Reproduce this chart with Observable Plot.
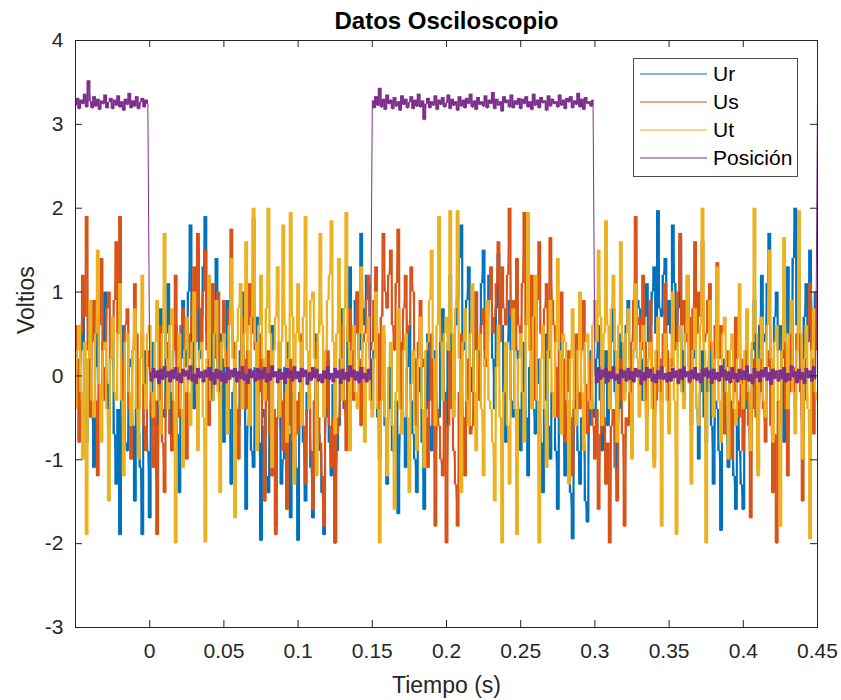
<!DOCTYPE html>
<html>
<head>
<meta charset="utf-8">
<script src="https://cdn.jsdelivr.net/npm/d3@7"></script>
<script src="https://cdn.jsdelivr.net/npm/@observablehq/plot@0.6"></script>
<style>
  body { margin: 0; background: white; }
  #wrap { position: relative; width: 841px; height: 700px; }
  #legend { position: absolute; left: 633px; top: 58px; }
</style>
</head>
<body>
<div id="wrap"></div>
<script>
// ---- data ----
const seriesNames = ["Ur", "Us", "Ut", "Posición"];
const seriesColors = ["#0072BD", "#D95319", "#EDB120", "#7E2F8E"];
const tStart = -0.05;    // first sample time (s)
const tStep = 0.00125;   // sampling step (s)

const ur = [
  0.5,0.1,-0.4,0.3,0.9,-0.2,-0.8,0.2,0.3,-0.5,-1.1,0.1,0.7,-0.3,-0.2,0.4,1.0,-0.1,-0.6,0.2,
  0.4,-0.7,-1.3,-0.4,-1.9,-0.2,0.6,-0.8,-0.9,0.1,0.2,-0.6,-1.5,-0.3,-0.7,-1.1,-1.9,-0.4,0.3,-0.9,
  -1.7,-0.3,0.4,-0.6,-1.2,0.2,0.8,-0.4,-0.5,0.5,1.1,-0.2,-0.9,0.3,0.6,-0.7,-1.4,0.2,0.9,0.1,
  0.3,1.0,1.8,0.4,-0.4,0.9,1.5,0.2,0.7,1.3,1.9,0.5,1.2,0.8,-0.3,0.6,1.4,-0.1,0.5,0.2,
  -0.8,0.2,0.9,-0.4,-1.3,-0.2,0.4,-0.5,-0.6,0.3,1.0,-0.3,-1.6,-0.6,0.2,-0.9,-1.1,0.1,0.7,-0.8,
  -1.97,-0.4,-0.5,-1.2,-1.4,0.2,0.6,-0.9,-1.8,-0.5,-0.3,-1.3,-1.0,0.1,0.4,-0.7,-1.7,-0.2,-0.6,-1.1,
  -1.97,-0.6,0.3,-0.8,-1.5,-0.2,-0.4,-1.1,-1.7,-0.3,0.5,-0.7,-0.9,-1.4,-1.9,-0.5,0.2,-0.8,-1.2,-0.1,
  -2.0,-0.9,-0.6,0.2,0.8,-0.4,-0.3,0.6,1.3,0.1,0.4,0.9,1.0,0.3,1.7,0.8,0.6,1.2,1.1,0.2,
  -0.4,0.3,0.9,-0.5,-1.0,-0.2,0.5,-0.6,-1.3,-0.4,0.3,-0.9,-0.8,-0.3,-1.65,-0.7,0.2,-0.5,-1.1,0.1,
  0.6,-0.3,-0.7,-1.0,-1.4,-0.2,0.1,-0.8,-1.6,-0.4,0.5,-0.6,-0.9,0.2,0.3,-0.4,-0.5,0.4,0.8,-0.2,
  -0.6,0.4,1.2,0.2,-0.3,0.6,0.9,1.4,1.8,0.3,0.5,0.9,1.3,0.1,-0.2,0.7,1.0,0.2,0.4,1.1,
  1.5,0.3,0.7,1.2,1.1,0.2,-0.4,0.8,1.45,0.5,0.6,-0.2,-0.8,0.4,0.9,-0.3,-0.5,0.6,0.3,-0.4,
  -0.9,-0.2,0.4,-0.5,-1.2,0.1,0.6,-0.4,-0.7,-0.1,0.2,-0.8,-1.4,-0.3,0.5,-0.6,-1.0,-0.2,-0.3,-0.9,
  -1.6,-0.5,0.4,-0.7,-1.2,-0.3,-0.6,-1.4,-1.95,-0.4,-0.2,-0.9,-1.3,-0.5,-0.8,-1.5,-1.75,-0.6,0.3,-0.4,
  -0.5,0.2,0.6,-0.3,-0.9,-0.1,0.3,-0.6,-0.4,0.4,0.8,-0.2,-1.1,-0.4,0.5,0.1,-0.2,0.6,0.9,0.2,
  -0.7,0.3,0.4,0.9,0.8,0.2,-0.3,0.7,1.1,0.4,0.6,1.0,1.3,0.5,1.97,0.8,0.7,1.2,1.4,0.6,
  0.9,0.5,1.8,1.1,0.4,0.8,1.6,0.3,-0.3,0.6,0.9,0.1,-0.6,0.2,0.5,-0.4,-1.0,-0.2,0.3,-0.5,
  -0.8,0.1,0.7,-0.6,-1.3,-0.3,-0.4,-0.9,-1.85,-0.2,0.2,-0.7,-1.1,-0.3,-0.5,-1.2,-1.6,-0.4,-0.9,-1.3,
  -1.6,-0.4,0.4,-0.2,-0.7,0.3,0.9,0.1,-0.3,0.6,1.2,0.4,0.5,1.1,1.7,0.2,-0.4,0.7,1.0,0.3,
  0.6,0.1,-0.8,0.5,1.3,0.2,0.3,1.4,2.0,0.6,0.8,0.2,-0.5,0.7,1.1,0.4,1.5,0.8,0.4,1.0,0.9
];
const us = [
  0.6,0.2,-0.8,0.5,1.2,0.7,1.9,0.3,-0.5,0.4,0.9,-0.3,-1.2,0.6,1.4,0.1,-0.3,0.8,1.0,0.2,
  0.4,0.9,1.6,0.5,1.9,0.2,-0.7,0.6,0.8,-0.4,-1.0,0.3,1.1,0.5,-0.4,0.2,0.5,-0.6,-0.9,0.1,
  0.3,-0.5,-1.1,-0.3,-1.9,-0.6,0.6,-0.8,-1.4,-0.2,0.4,-0.7,-0.9,0.3,1.2,0.1,-0.5,0.6,0.8,-0.2,
  -1.0,0.2,0.5,0.9,1.3,0.4,1.7,0.8,0.4,1.0,1.5,0.3,-0.6,0.5,1.1,0.2,0.7,1.0,-0.3,0.4,
  0.9,0.3,-0.6,0.8,1.75,0.4,0.2,-0.4,-1.0,0.1,0.7,0.2,-0.4,0.6,1.1,0.5,1.88,0.3,-0.8,-0.2,
  0.5,-0.6,-1.5,-0.3,0.3,-0.7,-1.2,-0.4,-1.9,-0.5,0.4,-0.3,-0.9,-0.2,-1.6,-0.6,0.2,-0.8,-1.1,-0.3,
  -0.7,-0.2,0.5,-0.6,-1.3,-0.4,-0.2,-0.9,-1.6,-0.3,0.4,-0.5,-0.8,-1.2,-1.8,-0.4,0.3,-0.6,-1.1,-0.5,
  -2.0,-0.7,-0.5,0.2,0.6,-0.3,-0.9,0.1,0.8,0.3,-0.3,0.5,1.0,0.2,-0.6,0.4,0.5,0.9,1.2,0.3,
  0.4,0.9,1.3,0.5,-0.5,0.7,1.7,1.0,0.8,1.2,1.5,0.6,0.3,1.1,1.75,0.4,-0.4,0.8,1.2,0.5,
  0.6,1.3,1.0,0.2,-0.7,0.4,0.9,0.1,0.2,-0.5,-1.1,-0.3,0.5,-0.6,-1.8,-0.4,-0.6,-1.0,-1.2,-0.3,
  -2.0,-0.6,0.3,-0.4,-0.9,-1.3,-1.8,-0.2,0.5,-0.5,-1.2,-0.3,0.2,-0.7,-0.6,0.3,1.0,0.2,-0.3,0.6,
  0.8,0.1,0.4,0.9,1.3,0.5,0.7,1.1,1.6,0.4,1.3,0.8,0.6,1.2,2.0,0.7,0.9,0.3,1.4,0.6,
  0.5,1.1,1.95,0.6,0.8,0.3,1.2,0.7,-0.3,0.9,1.6,0.5,0.4,0.8,1.1,0.2,1.65,0.9,0.6,0.1,
  -0.5,0.4,1.0,0.2,-0.8,-0.2,0.3,-0.5,-1.2,-0.3,0.5,-0.2,-0.4,0.3,0.9,-0.1,-0.7,-0.3,0.2,-0.6,
  -1.0,-0.4,-1.6,-0.7,0.3,-0.5,-1.3,-0.8,-2.0,-0.6,-0.4,-1.1,-1.5,-0.3,0.2,-0.7,-1.8,-0.5,-0.6,-0.2,
  0.4,0.9,1.9,0.6,0.7,0.3,1.2,0.4,-0.5,0.2,0.9,0.1,-1.0,-0.3,0.6,0.2,-0.3,0.5,1.1,0.3,
  -0.6,0.1,0.8,0.3,0.4,1.0,1.7,0.6,0.9,0.4,1.2,0.7,-0.2,0.8,1.6,0.5,1.0,0.7,1.6,0.4,
  0.5,0.9,1.1,0.3,-0.4,0.6,1.35,0.2,0.6,-0.2,-0.7,0.1,0.3,-0.4,-1.0,-0.2,0.7,-0.3,-0.5,0.2,
  -0.9,-0.3,0.4,-0.6,-1.7,-0.4,0.2,-0.5,-1.1,-0.2,0.6,-0.4,-0.8,0.1,0.3,-0.6,-1.4,-0.7,-2.0,-0.3,
  -0.6,0.2,0.5,-0.4,-1.2,-0.2,0.8,0.1,-0.3,0.5,1.2,-0.2,-1.5,-0.3,0.4,0.6,1.1,0.2,-0.7,0.3,1.0
];
const ut = [
  -0.4,0.3,0.6,-0.2,-1.0,0.4,-1.9,0.2,0.9,-0.3,-0.5,0.5,1.5,-0.1,-0.8,0.3,0.4,-0.4,-1.5,0.2,
  0.7,-0.2,-0.3,0.5,1.1,-0.3,-1.2,0.4,0.5,-0.2,-0.6,0.3,0.8,-0.4,-1.0,0.2,1.2,-0.1,-0.4,0.5,
  0.6,-0.2,-0.5,0.4,0.9,-0.3,-0.7,0.5,1.7,0.2,-0.4,0.6,0.8,-0.3,-2.0,0.1,0.5,-0.4,-1.1,0.3,
  0.7,-0.2,-0.6,0.4,1.0,-0.1,-0.9,0.3,0.4,-0.5,-1.99,0.2,1.2,-0.3,-0.3,0.5,0.9,-0.2,-1.4,0.4,
  0.5,0.1,-0.7,0.6,1.4,0.2,-1.7,0.4,0.8,1.1,-0.4,0.5,1.6,0.3,-0.6,0.7,2.0,0.4,-0.9,0.6,
  1.2,0.2,-0.3,0.8,2.0,0.5,-1.1,0.3,0.7,1.3,-0.5,0.4,1.8,0.6,-0.8,0.2,1.95,0.7,-1.3,0.5,
  1.1,0.4,-0.6,0.7,1.9,0.3,-0.4,0.9,1.0,0.2,-1.2,0.5,1.7,0.6,-0.5,0.3,0.9,1.2,1.85,0.4,
  -0.7,0.5,1.4,0.2,-0.3,0.8,1.95,0.4,-0.9,0.3,0.6,-0.2,-0.4,0.5,1.3,0.1,-0.8,0.4,0.7,-0.3,
  -0.5,0.2,1.0,-0.4,-2.0,-0.3,0.6,-0.5,-1.2,0.1,0.4,-0.6,-1.6,-0.2,0.8,-0.4,-0.7,0.3,0.5,-0.5,
  -1.4,-0.1,0.3,-0.6,-0.9,0.2,0.7,-0.4,-1.1,0.3,0.4,0.9,1.5,0.2,-0.6,0.6,1.9,0.4,-0.3,0.5,
  0.7,0.3,1.97,0.5,-0.5,0.8,1.97,0.2,-1.4,0.4,0.8,-0.3,-0.6,0.5,1.1,-0.2,-0.9,0.3,0.5,-0.4,
  -1.2,0.2,0.9,-0.3,-0.4,-0.8,-1.5,0.1,0.6,-0.5,-2.0,-0.2,0.4,-0.6,-1.3,0.3,0.8,-0.4,-1.9,0.2,
  0.5,-0.2,-0.8,0.6,1.95,0.3,-0.4,0.7,1.2,-0.3,-2.0,0.2,0.6,-0.4,-1.1,0.3,0.9,-0.2,-0.5,0.4,
  1.4,0.3,-0.7,0.5,0.4,-0.3,-1.3,0.2,0.8,-0.4,-0.6,0.3,1.0,-0.2,-0.9,0.4,0.5,-0.3,-0.4,0.6,
  0.9,0.4,1.5,0.7,-0.6,0.5,1.85,0.6,-0.4,0.8,1.2,0.3,-0.8,0.6,1.6,0.4,-0.3,0.5,0.8,-0.2,
  -1.0,0.3,1.1,0.2,-0.5,0.4,0.6,-0.3,-0.9,0.2,0.4,-0.4,-1.1,0.3,0.7,-0.2,-1.8,0.1,0.5,-0.3,
  -0.7,0.2,1.0,-0.3,-1.9,0.4,0.6,-0.2,-0.4,0.5,1.2,-0.1,-1.3,0.3,0.8,-0.4,-0.6,0.6,2.0,0.3,
  -2.0,-0.2,0.9,0.4,-0.5,0.2,1.3,-0.3,-0.8,0.5,0.7,-0.2,-1.0,0.3,0.5,-0.4,-0.6,0.2,1.1,-0.1,
  -0.4,0.3,0.8,-0.2,-0.9,0.4,2.0,0.5,-1.2,0.2,0.7,-0.3,-0.5,0.6,1.5,0.2,-0.8,0.4,0.6,-0.3,
  -1.8,0.3,1.65,0.4,-0.4,0.5,0.9,-0.2,-0.7,0.3,1.97,0.5,-1.0,0.2,0.6,-0.4,-1.95,0.3,0.8,-0.2,-0.3
];
const posicion = [
  3.22,3.31,3.18,3.29,3.24,3.36,3.20,3.52,3.27,3.19,3.33,3.21,3.30,3.17,3.28,3.24,3.35,3.19,3.26,3.31,
  3.18,3.29,3.22,3.34,3.20,3.27,3.16,3.30,3.23,3.37,3.19,3.28,3.21,3.33,3.18,3.26,3.31,3.20,3.29,3.24,
  0.04,-0.07,0.09,-0.03,0.06,-0.1,0.08,-0.05,0.11,-0.02,0.05,-0.08,0.07,-0.04,0.1,-0.06,0.03,-0.09,0.08,-0.01,
  0.06,-0.05,0.12,-0.07,0.02,-0.1,0.09,-0.03,0.05,-0.08,0.07,-0.02,0.1,-0.06,0.04,-0.11,0.08,-0.04,0.06,-0.07,
  0.03,-0.09,0.1,-0.05,0.07,-0.02,0.09,-0.08,0.05,-0.04,0.11,-0.06,0.02,-0.1,0.08,-0.03,0.06,-0.07,0.09,-0.05,
  0.07,-0.04,0.1,-0.08,0.03,-0.06,0.12,-0.02,0.05,-0.09,0.08,-0.05,0.04,-0.1,0.09,-0.03,0.06,-0.07,0.11,-0.04,
  0.05,-0.08,0.09,-0.02,0.07,-0.11,0.04,-0.06,0.1,-0.03,0.08,-0.07,0.02,-0.09,0.06,-0.04,0.11,-0.05,0.03,-0.08,
  0.09,-0.03,0.06,-0.1,0.08,-0.05,0.04,-0.07,0.12,-0.02,0.07,-0.06,0.05,-0.09,0.1,-0.04,0.03,-0.08,0.08,-0.05,
  3.28,3.19,3.33,3.22,3.43,3.20,3.30,3.17,3.35,3.24,3.29,3.18,3.32,3.21,3.27,3.16,3.34,3.23,3.30,3.19,
  3.26,3.33,3.18,3.29,3.21,3.36,3.20,3.28,3.05,3.24,3.31,3.19,3.27,3.22,3.34,3.17,3.29,3.23,3.32,3.20,
  3.25,3.35,3.18,3.30,3.22,3.27,3.16,3.33,3.21,3.29,3.19,3.31,3.24,3.36,3.20,3.28,3.17,3.32,3.23,3.27,
  3.21,3.34,3.19,3.29,3.24,3.38,3.18,3.30,3.22,3.27,3.15,3.33,3.25,3.29,3.20,3.35,3.19,3.28,3.23,3.31,
  3.18,3.30,3.24,3.33,3.20,3.27,3.17,3.36,3.22,3.29,3.19,3.32,3.25,3.28,3.16,3.34,3.21,3.30,3.24,3.27,
  3.20,3.35,3.22,3.29,3.18,3.31,3.26,3.33,3.19,3.28,3.23,3.37,3.20,3.30,3.17,3.32,3.24,3.27,3.21,3.29,
  0.03,-0.09,0.1,-0.05,0.07,-0.02,0.09,-0.08,0.05,-0.04,0.11,-0.06,0.02,-0.1,0.08,-0.03,0.06,-0.07,0.09,-0.05,
  0.05,-0.08,0.09,-0.02,0.07,-0.11,0.04,-0.06,0.1,-0.03,0.08,-0.07,0.02,-0.09,0.06,-0.04,0.11,-0.05,0.03,-0.08,
  0.04,-0.07,0.09,-0.03,0.06,-0.1,0.08,-0.05,0.11,-0.02,0.05,-0.08,0.07,-0.04,0.1,-0.06,0.03,-0.09,0.08,-0.01,
  0.09,-0.03,0.06,-0.1,0.08,-0.05,0.04,-0.07,0.12,-0.02,0.07,-0.06,0.05,-0.09,0.1,-0.04,0.03,-0.08,0.08,-0.05,
  0.06,-0.05,0.12,-0.07,0.02,-0.1,0.09,-0.03,0.05,-0.08,0.07,-0.02,0.1,-0.06,0.04,-0.11,0.08,-0.04,0.06,-0.07,
  0.07,-0.04,0.1,-0.08,0.03,-0.06,0.12,-0.02,0.05,-0.09,0.08,-0.05,0.04,-0.1,0.09,-0.03,0.06,-0.07,0.11,-0.04,
  3.3
];

const xTicks = [0, 0.05, 0.1, 0.15, 0.2, 0.25, 0.3, 0.35, 0.4, 0.45];
const xTickLabels = ["0", "0.05", "0.1", "0.15", "0.2", "0.25", "0.3", "0.35", "0.4", "0.45"];
const yTicks = [-3, -2, -1, 0, 1, 2, 3, 4];
const titleText = "Datos Osciloscopio";
const xLabel = "Tiempo (s)";
const yLabel = "Voltios";

// ---- build tables: each sample interval drawn as a vertical trace segment
// (the dense oscilloscope trace fills the span between consecutive samples) ----
const toSpans = (arr) => arr.slice(0, -1).map((v, i) => ({
  t: tStart + (i + 0.5) * tStep, v, vn: arr[i + 1]
}));
const toRows = (arr) => arr.map((v, i) => ({ t: tStart + i * tStep, v }));
const spans = [ur, us, ut, posicion].map(toSpans);
const rows = [ur, us, ut, posicion].map(toRows);
// the position signal's edges stay thin lines; only its noise is filled
spans[3] = spans[3].filter(d => Math.abs(d.vn - d.v) < 1);

const axisColor = "#262626";
const W = 841, H = 700, ML = 75, MR = 24, MT = 40, MB = 73;
const frameW = W - ML - MR, frameH = H - MT - MB, tickLen = 7;

const traceMarks = spans.flatMap((s, k) => [
  Plot.ruleX(s, { x: "t", y1: "v", y2: "vn", stroke: seriesColors[k], strokeWidth: 2.1 }),
  Plot.line(rows[k], { x: "t", y: "v", stroke: seriesColors[k], strokeWidth: 1 })
]);

const chart = Plot.plot({
  width: W, height: H,
  marginLeft: ML, marginRight: MR, marginTop: MT, marginBottom: MB,
  x: { domain: [-0.05, 0.45] },
  y: { domain: [-3, 4] },
  style: { fontFamily: "'Liberation Sans', Arial, Helvetica, sans-serif", fontSize: "21px", color: axisColor, background: "white" },
  marks: [
    ...traceMarks,
    Plot.frame({ stroke: axisColor, strokeWidth: 1 }),
    Plot.tickX(xTicks, { x: d => d, insetTop: frameH - tickLen, stroke: axisColor }),
    Plot.tickX(xTicks, { x: d => d, insetBottom: frameH - tickLen, stroke: axisColor }),
    Plot.tickY(yTicks, { y: d => d, insetRight: frameW - tickLen, stroke: axisColor }),
    Plot.tickY(yTicks, { y: d => d, insetLeft: frameW - tickLen, stroke: axisColor }),
    Plot.axisX({ ticks: xTicks, tickSize: 0, tickPadding: 16, label: null,
                 tickFormat: d => xTickLabels[xTicks.indexOf(d)] }),
    Plot.axisY({ ticks: yTicks, tickSize: 0, tickPadding: 12, label: null,
                 tickFormat: d => String(d) }),
    Plot.text([titleText], { frameAnchor: "top", lineAnchor: "bottom", dy: -12,
                             fontWeight: "bold", fontSize: 24, fill: "black" }),
    Plot.text([xLabel], { frameAnchor: "bottom", lineAnchor: "bottom", dy: 65, fontSize: 23, fill: axisColor }),
    Plot.text([yLabel], { frameAnchor: "left", lineAnchor: "bottom", rotate: -90, dx: -42, fontSize: 23, fill: axisColor })
  ]
});

const wrap = document.getElementById("wrap");
wrap.appendChild(chart);

// ---- legend (MATLAB-style box, top right) ----
const lg = d3.select(wrap).append("svg")
  .attr("id", "legend").attr("width", 166).attr("height", 120)
  .style("font-family", "'Liberation Sans', Arial, Helvetica, sans-serif");
lg.append("rect").attr("x", 0.5).attr("y", 0.5).attr("width", 164).attr("height", 118)
  .attr("fill", "white").attr("stroke", "#4d4d4d").attr("stroke-width", 1);
const row = lg.selectAll("g.row").data(seriesNames).join("g")
  .attr("transform", (d, i) => `translate(0,${16 + i * 28})`);
row.append("line").attr("x1", 7).attr("x2", 74).attr("y1", 0).attr("y2", 0)
  .attr("stroke", (d, i) => seriesColors[i]).attr("stroke-width", 1);
row.append("text").attr("x", 80).attr("y", 0).attr("dy", "0.35em")
  .attr("font-size", 21).attr("fill", "black").text(d => d);
</script>
</body>
</html>
